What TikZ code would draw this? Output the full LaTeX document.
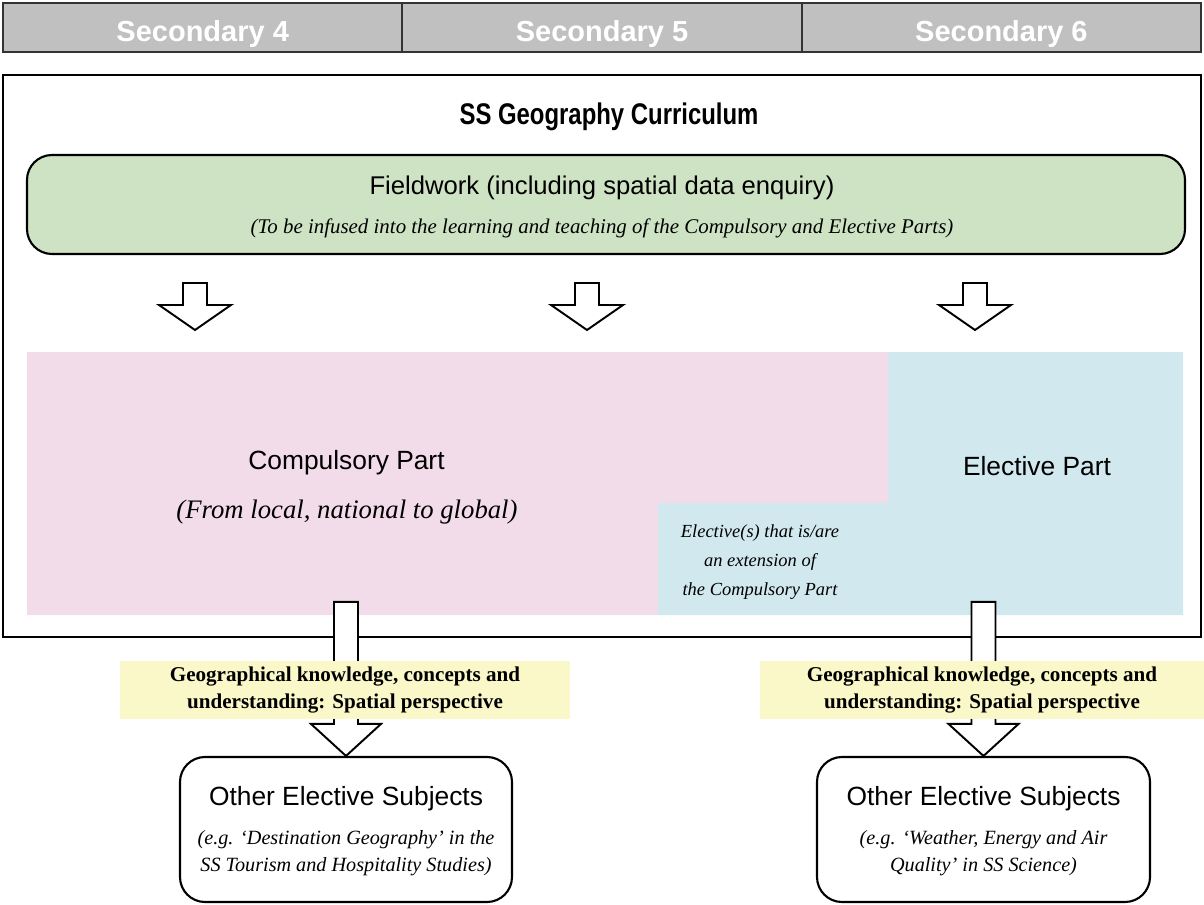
\documentclass[tikz,border=0pt]{standalone}
\usepackage{fontspec}
\setmainfont{Liberation Serif}
\setsansfont{Liberation Sans}
\newfontfamily\titlefont[FakeStretch=0.8]{Liberation Sans}
\usetikzlibrary{positioning}

\definecolor{yeargray}{RGB}{192,192,192}
\definecolor{fieldgreen}{RGB}{205,227,196}
\definecolor{comppink}{RGB}{242,220,233}
\definecolor{electblue}{RGB}{208,232,238}
\definecolor{linkyellow}{RGB}{250,247,200}

\begin{document}
\begin{tikzpicture}[x=0.2mm, y=-0.2mm]
\useasboundingbox (0,0) rectangle (1204,905);

\tikzstyle{year} = [
    rectangle, draw=black!80, line width=1.2pt, fill=yeargray, outer sep=0pt,
    minimum width=79.87mm, minimum height=9.8mm, text=white,
    text height=16pt, text depth=0pt,
    font=\sffamily\bfseries\fontsize{16.5}{18}\selectfont]
\tikzstyle{rbox} = [rectangle, rounded corners=5mm, draw=black, line width=1.2pt]
\tikzstyle{part} = [font=\sffamily\fontsize{15}{18}\selectfont]
\tikzstyle{note} = [font=\itshape\fontsize{11.5}{15.5}\selectfont, align=center]
\tikzstyle{link} = [
    rectangle, fill=linkyellow, minimum height=10.4mm, align=center,
    font=\bfseries\fontsize{12}{15}\selectfont]
\tikzstyle{hollow} = [draw=black, line width=1.1pt, fill=white, line join=miter]

% year bar
\node[year] at (202.7,27.5) (sec4) {Secondary 4};
\node[year, right=0pt of sec4] (sec5) {Secondary 5};
\node[year, right=0pt of sec5] (sec6) {Secondary 6};

% curriculum frame
\node[draw, line width=1.5pt, minimum width=239.6mm, minimum height=112.4mm] at (602,356) (frame) {};
\node[font=\titlefont\bfseries\fontsize{17}{20}\selectfont] at (609,117) (title) {SS Geography Curriculum};

\node[rbox, fill=fieldgreen, minimum width=231.6mm, minimum height=19.8mm] at (606,204.5) (fieldwork) {};
\node[part, font=\sffamily\fontsize{14.6}{17}\selectfont] at (602,188) (fieldtext) {Fieldwork (including spatial data enquiry)};
\node[note, font=\itshape\fontsize{11.9}{14}\selectfont] at (602,228) (fieldnote)
    {(To be infused into the learning and teaching of the Compulsory and Elective Parts)};

% parts
\fill[comppink] (27,352) -- (888,352) -- (888,503) -- (658,503) -- (658,615) -- (27,615) -- cycle;
\fill[electblue] (888,352) -- (1183,352) -- (1183,615) -- (658,615) -- (658,503) -- (888,503) -- cycle;

\node[part] at (346.5,463) (compulsory) {Compulsory Part};
\node[note, font=\itshape\fontsize{15.2}{18}\selectfont] at (347,512) (compnote) {(From local, national to global)};
\node[part] at (1037,466) (elective) {Elective Part};
\node[note, font=\itshape\fontsize{10.5}{16.4}\selectfont] at (760,562) (extension)
    {Elective(s) that is/are\\an extension of\\the Compulsory Part};

% arrows from fieldwork
\coordinate (tipa) at (195,330);
\coordinate (tipb) at (587,330);
\coordinate (tipc) at (975,330);
\foreach \n in {a,b,c}
  \draw[hollow] (tip\n) -- ++(-36,-25) -- ++(24,0) -- ++(0,-22) -- ++(24,0) -- ++(0,22) -- ++(24,0) -- cycle;

% other elective subjects
\node[rbox, minimum width=66.4mm, minimum height=29mm] at (346,829.5) (othera) {};
\node[rbox, minimum width=66.6mm, minimum height=29mm] at (983.5,829.5) (otherb) {};

\draw[hollow] (othera.north) -- ++(-35,-32) -- ++(23,0) -- ++(0,-122) -- ++(24,0) -- ++(0,122) -- ++(23,0) -- cycle;
\draw[hollow] (otherb.north) -- ++(-35,-32) -- ++(23,0) -- ++(0,-122) -- ++(24,0) -- ++(0,122) -- ++(23,0) -- cycle;

\node[link, minimum width=90mm] at (345,690) (linka)
    {Geographical knowledge, concepts and\\understanding: Spatial perspective};
\node[link, minimum width=88.8mm] at (982,690) (linkb)
    {Geographical knowledge, concepts and\\understanding: Spatial perspective};

\node[part] at (346,799) (othertitlea) {Other Elective Subjects};
\node[note, below=1.3mm of othertitlea] (othernotea)
    {(e.g. `Destination Geography' in the\\SS Tourism and Hospitality Studies)};
\node[part] at (983.5,799) (othertitleb) {Other Elective Subjects};
\node[note, below=1.3mm of othertitleb] (othernoteb)
    {(e.g. `Weather, Energy and Air\\Quality' in SS Science)};

\end{tikzpicture}
\end{document}
